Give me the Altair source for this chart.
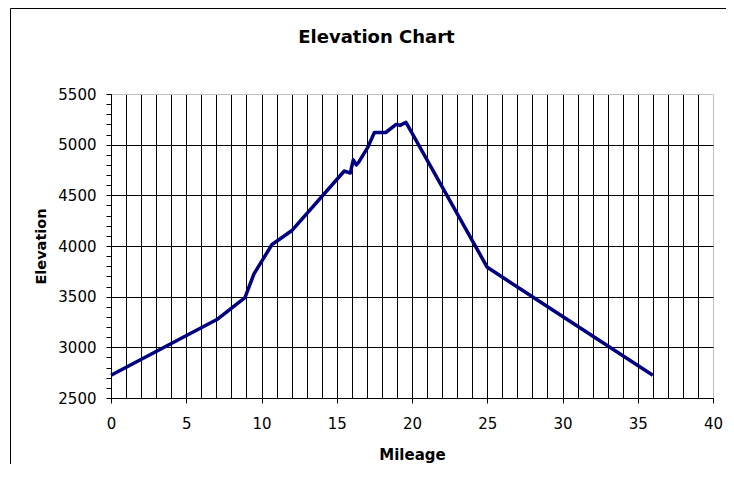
import altair as alt
import pandas as pd

# Data
mileage = [0, 7.1, 8.9, 9.5, 10.7, 12.0, 15.5, 15.9, 16.1, 16.3, 16.45,
           17.05, 17.5, 18.25, 18.95, 19.2, 19.6, 25.0, 36.0]
elevation = [2725, 3280, 3490, 3725, 4015, 4150, 4740, 4720, 4850, 4800, 4825,
             4970, 5120, 5120, 5200, 5190, 5220, 3790, 2725]

x_ticks = list(range(0, 41))
y_ticks = list(range(2500, 5501, 100))
chart_title = "Elevation Chart"

df = pd.DataFrame({"Mileage": mileage, "Elevation": elevation})

FONT = "DejaVu Sans"
PLOT_W, PLOT_H = 602, 304
PAD_L, PAD_T, PAD_R, PAD_B = 103, 86, 13, 66

x_axis = alt.Axis(
    values=x_ticks,
    title="Mileage",
    titleFont=FONT, titleFontSize=15, titleFontWeight="bold", titleColor="black",
    titleBaseline="alphabetic", titleX=PLOT_W / 2, titleY=61.5,
    labelFont=FONT, labelFontSize=15, labelColor="black",
    labelExpr="datum.value % 5 === 0 ? datum.label : ''",
    labelOverlap=False, labelFlush=False, labelPadding=13,
    tickColor="black", tickSize=5,
    tickOpacity={"condition": {"test": "datum.value % 5 === 0", "value": 1}, "value": 0},
    domainColor="black",
    grid=True, gridWidth=1,
    gridColor={"condition": {"test": "datum.value === 40", "value": "#c0c0c0"}, "value": "black"},
)

y_axis = alt.Axis(
    values=y_ticks,
    format="d",
    title="Elevation",
    titleFont=FONT, titleFontSize=14.5, titleFontWeight="bold", titleColor="black",
    titleBaseline="alphabetic", titleAngle=270, titleX=-66, titleY=PLOT_H / 2,
    labelFont=FONT, labelFontSize=15, labelColor="black",
    labelExpr="datum.value % 500 === 0 ? datum.label : ''",
    labelOverlap=False, labelFlush=False, labelPadding=10,
    tickColor="black", tickSize=5,
    domainColor="black",
    grid=True, gridWidth=1,
    gridOpacity={"condition": {"test": "datum.value % 500 === 0", "value": 1}, "value": 0},
    gridColor={"condition": {"test": "datum.value === 5500", "value": "#c0c0c0"}, "value": "black"},
)

line = alt.Chart(df).mark_line(color="#000080", strokeWidth=3.5, strokeJoin="round").encode(
    x=alt.X("Mileage:Q", scale=alt.Scale(domain=[0, 40], nice=False, zero=False), axis=x_axis),
    y=alt.Y("Elevation:Q", scale=alt.Scale(domain=[2500, 5500], nice=False, zero=False), axis=y_axis),
)

single = alt.Data(values=[{"t": chart_title}])
title_mark = alt.Chart(single).mark_text(
    font=FONT, fontSize=18, fontWeight="bold", color="black",
    align="center", baseline="alphabetic",
).encode(text="t:N", x=alt.value(265.5), y=alt.value(-51.3))

left_border = alt.Chart(single).mark_rule(color="black", strokeWidth=1).encode(
    x=alt.value(-100.5), y=alt.value(-85.5), y2=alt.value(PLOT_H + PAD_B)
)
top_border = alt.Chart(single).mark_rule(color="black", strokeWidth=1).encode(
    x=alt.value(-100.5), x2=alt.value(PLOT_W + PAD_R), y=alt.value(-85.5)
)

chart = alt.layer(line, title_mark, left_border, top_border).properties(
    width=PLOT_W,
    height=PLOT_H,
    autosize=alt.AutoSizeParams(type="none"),
    padding={"left": PAD_L, "top": PAD_T, "right": PAD_R, "bottom": PAD_B},
).configure_view(stroke=None).configure(background="white")

chart.save("out.html", embed_options={"renderer": "svg", "actions": False})
